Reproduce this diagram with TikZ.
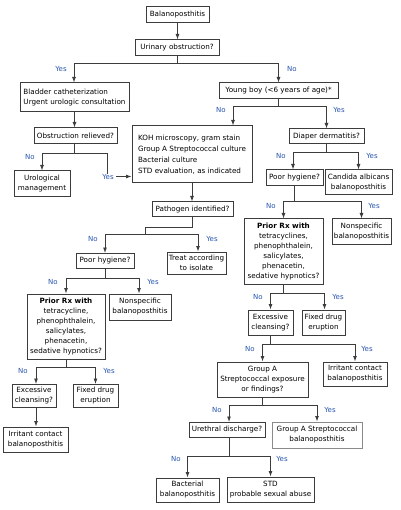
\documentclass[tikz,border=0pt]{standalone}
\usepackage{fontspec}
\setmainfont{DejaVu Sans}
\usetikzlibrary{arrows.meta}
\definecolor{lnc}{RGB}{60,60,60}
\definecolor{lblc}{RGB}{40,85,175}
\begin{document}
\begin{tikzpicture}[x=1pt,y=-1pt,
  box/.style={draw=lnc,line width=1pt,align=center,inner sep=1pt,
    font=\fontsize{7.2}{10}\selectfont,text=black},
  lbox/.style={box,align=left},
  lbl/.style={text=lblc,font=\fontsize{7}{8}\selectfont,inner sep=0.5pt},
  arr/.style={draw=lnc,line width=0.9pt,-{Latex[length=5.5pt,width=4pt]}},
  ln/.style={draw=lnc,line width=0.9pt}]
\useasboundingbox (0,0) rectangle (400,510);
\fill[white] (0,0) rectangle (400,510);
% nodes
\node[box,minimum width=63,minimum height=16] (n1) at (177.5,15) {Balanoposthitis};
\node[box,minimum width=84,minimum height=16] (n2) at (177,48) {Urinary obstruction?};
\node[lbox,minimum width=109,minimum height=29] (n3) at (74.5,97.5) {Bladder catheterization\\Urgent urologic consultation};
\node[box,minimum width=119,minimum height=16] (n4) at (278.5,91) {Young boy (<6 years of age)*};
\node[box,minimum width=83,minimum height=16] (n5) at (75.5,136) {Obstruction relieved?};
\node[box,minimum width=56,minimum height=26] (n6) at (42,184) {Urological\\management};
\node[lbox,minimum width=120,minimum height=57,font=\fontsize{7.2}{11}\selectfont] (n7) at (192,154.5) {KOH microscopy, gram stain\\Group A Streptococcal culture\\Bacterial culture\\STD evaluation, as indicated};
\node[box,minimum width=75,minimum height=15] (n8) at (326.5,136.5) {Diaper dermatitis?};
\node[box,minimum width=57,minimum height=16] (n9) at (294.5,178) {Poor hygiene?};
\node[box,minimum width=67,minimum height=25] (n10) at (358.5,182.5) {Candida albicans\\balanoposthitis};
\node[box,minimum width=81,minimum height=15] (n11) at (192.5,209.5) {Pathogen identified?};
\node[box,minimum width=79,minimum height=65] (n12) at (283.5,251.5) {\textbf{Prior Rx with}\\tetracyclines,\\phenophthalein,\\salicylates,\\phenacetin,\\sedative hypnotics?};
\node[box,minimum width=59,minimum height=25] (n13) at (361.5,231.5) {Nonspecific\\balanoposthitis};
\node[box,minimum width=59,minimum height=22] (n14) at (196.5,263) {Treat according\\to isolate};
\node[box,minimum width=58,minimum height=15] (n15) at (105,261) {Poor hygiene?};
\node[box,minimum width=78,minimum height=65] (n16) at (66,326.5) {\textbf{Prior Rx with}\\tetracycline,\\phenophthalein,\\salicylates,\\phenacetin,\\sedative hypnotics?};
\node[box,minimum width=62,minimum height=26] (n17) at (140,307) {Nonspecific\\balanoposthitis};
\node[box,minimum width=45,minimum height=25] (n18) at (270.5,322.5) {Excessive\\cleansing?};
\node[box,minimum width=43,minimum height=25] (n19) at (323.5,322.5) {Fixed drug\\eruption};
\node[box,minimum width=91,minimum height=35] (n20) at (262.5,379.5) {Group A\\Streptococcal exposure\\or findings?};
\node[box,minimum width=64,minimum height=24] (n21) at (355,374) {Irritant contact\\balanoposthitis};
\node[box,minimum width=44,minimum height=23] (n22) at (34,396) {Excessive\\cleansing?};
\node[box,minimum width=45,minimum height=23] (n23) at (95.5,396) {Fixed drug\\eruption};
\node[box,minimum width=65,minimum height=25] (n24) at (35.5,439.5) {Irritant contact\\balanoposthitis};
\node[box,minimum width=76,minimum height=15] (n25) at (227,430) {Urethral discharge?};
\node[box,draw=lnc!60,minimum width=90,minimum height=26] (n26) at (317,435) {Group A Streptococcal\\balanoposthitis};
\node[box,minimum width=63,minimum height=24] (n27) at (187.5,490) {Bacterial\\balanoposthitis};
\node[box,minimum width=87,minimum height=25] (n28) at (270.5,489.5) {STD\\probable sexual abuse};
% connectors
\draw[arr] (n1.south) -- (n1.south |- n2.north);
\draw[arr] (n2.south) -- ++(0,7) -| ([xshift=-0.5pt]n3.north);
\draw[arr] (n2.south) -- ++(0,7) -| (n4.north);
\node[lbl] (l1) at (61,69) {Yes};
\node[lbl] (l2) at (292,69) {No};
\draw[arr] (n3.south) -- (n3.south |- n5.north);
\draw[arr] (n4.south) -- ++(0,7) -| ([xshift=41pt]n7.north);
\draw[arr] (n4.south) -- ++(0,7) -| (n8.north);
\node[lbl] (l3) at (221,110) {No};
\node[lbl] (l4) at (339,110) {Yes};
\draw[arr] ([xshift=-1.5pt]n5.south) -- ++(0,9) -| (n6.north);
\node[lbl] (l5) at (108,176.5) {Yes};
\node[lbl] (l6) at (30,157) {No};
\draw[ln] ([xshift=-1.5pt]n5.south) -- ++(0,9) -| ([yshift=-1pt]l5.north -| 107,0);
\draw[arr] (l5.east) ++(1.5,0) -- (l5.east -| n7.west);
\draw[arr] (n7.south) -- (n7.south |- n11.north);
\draw[ln] (n11.south) -- ++(0,10) -| (145,234.5) coordinate (c1);
\draw[arr] (c1) -| (n15.north);
\draw[arr] (c1) -| ([xshift=1.5pt]n14.north);
\node[lbl] (l7) at (93,239) {No};
\node[lbl] (l8) at (212,239) {Yes};
\draw[arr] (n8.south) -- ++(0,8) -| ([xshift=-1.5pt]n9.north);
\draw[arr] (n8.south) -- ++(0,8) -| (n10.north);
\node[lbl] (l9) at (281,156) {No};
\node[lbl] (l10) at (372,156) {Yes};
\draw[arr] (n9.south) -- ++(0,15) -| (n12.north);
\draw[arr] (n9.south) -- ++(0,15) -| (n13.north);
\node[lbl] (l11) at (271,206) {No};
\node[lbl] (l12) at (374,206) {Yes};
\draw[arr] (n12.south) -- ++(0,9) -| (n18.north);
\draw[arr] (n12.south) -- ++(0,9) -| ([xshift=1pt]n19.north);
\node[lbl] (l13) at (258,297) {No};
\node[lbl] (l14) at (338,297) {Yes};
\draw[arr] (n18.south) -- ++(0,9) -| (n20.north);
\draw[arr] (n18.south) -- ++(0,9) -| (n21.north);
\node[lbl] (l15) at (250,349) {No};
\node[lbl] (l16) at (367,349) {Yes};
\draw[arr] (n20.south) -- ++(0,8) -| ([xshift=2pt]n25.north);
\draw[arr] (n20.south) -- ++(0,8) -| (n26.north);
\node[lbl] (l17) at (217,410) {No};
\node[lbl] (l18) at (330,410) {Yes};
\draw[arr] ([xshift=2pt]n25.south) -- ++(0,18) -| (n27.north);
\draw[arr] ([xshift=2pt]n25.south) -- ++(0,18) -| (n28.north);
\node[lbl] (l19) at (176,459) {No};
\node[lbl] (l20) at (282,459) {Yes};
\draw[arr] (n15.south) -- ++(0,9) -| (n16.north);
\draw[arr] (n15.south) -- ++(0,9) -| ([xshift=-1pt]n17.north);
\node[lbl] (l21) at (53,282) {No};
\node[lbl] (l22) at (153,282) {Yes};
\draw[arr] (n16.south) -- ++(0,8) -| ([xshift=2pt]n22.north);
\draw[arr] (n16.south) -- ++(0,8) -| (n23.north);
\node[lbl] (l23) at (23,371) {No};
\node[lbl] (l24) at (109,371) {Yes};
\draw[arr] ([xshift=2pt]n22.south) -- ([xshift=2pt]n22.south |- n24.north);
\end{tikzpicture}
\end{document}
